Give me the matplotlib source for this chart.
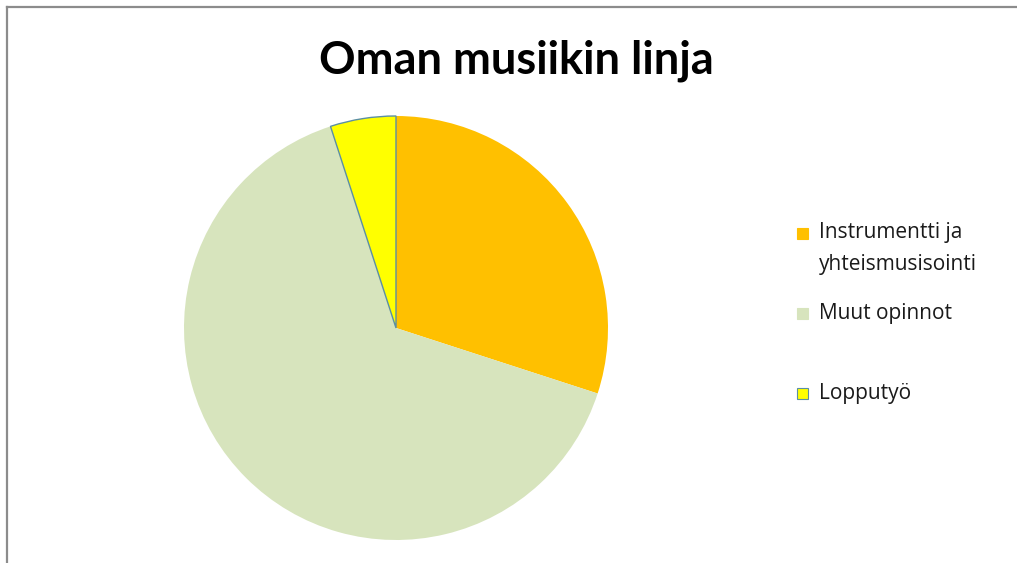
import matplotlib.pyplot as plt
from matplotlib.patches import Rectangle
from matplotlib.lines import Line2D

labels = ["Instrumentti ja\nyhteismusisointi", "Muut opinnot", "Lopputyö"]
values = [30, 65, 5]
colors = ["#FFC000", "#D7E4BD", "#FFFF00"]

W, H = 1017, 563
fig = plt.figure(figsize=(W / 100, H / 100), dpi=100)
fig.patch.set_facecolor("white")

# outer frame (only top and left visible)
fig.add_artist(Line2D([6.5 / W, 1], [1 - 6.5 / H, 1 - 6.5 / H], color="#8c8c8c", lw=1.6))
fig.add_artist(Line2D([6.5 / W, 6.5 / W], [0, 1 - 6.5 / H], color="#8c8c8c", lw=1.6))

# pie: centre (396, 328), radius 212 px
cx, cy, r = 396, 328, 212
ax = fig.add_axes([(cx - r) / W, (H - cy - r) / H, 2 * r / W, 2 * r / H])
wedges, _ = ax.pie(values, colors=colors, startangle=90, counterclock=False,
                   radius=1, wedgeprops=dict(linewidth=0))
wedges[2].set_edgecolor("#5b8fa3")
wedges[2].set_linewidth(1.0)
ax.set_xlim(-1, 1)
ax.set_ylim(-1, 1)
ax.set_aspect("equal")
ax.axis("off")

fig.text(516 / W, 1 - 61 / H, "Oman musiikin linja", ha="center", va="center",
         fontsize=32.5, fontweight="bold", family="Lato", color="black")

# legend
leg_y = [233, 313, 393]
for lab, col, y in zip(labels, colors, leg_y):
    ec = "#5b8fa3" if col == "#FFFF00" else col
    fig.add_artist(Rectangle((797 / W, 1 - (y + 6) / H), 11 / W, 11 / H,
                             facecolor=col, edgecolor=ec, lw=0.8))
    for i, t in enumerate(lab.split("\n")):
        fig.text(819 / W, 1 - (y + i * 32) / H, t, ha="left", va="center",
                 fontsize=15, family="Open Sans", color="#1a1a1a")

fig.savefig("out.png", dpi=100, facecolor="white")
